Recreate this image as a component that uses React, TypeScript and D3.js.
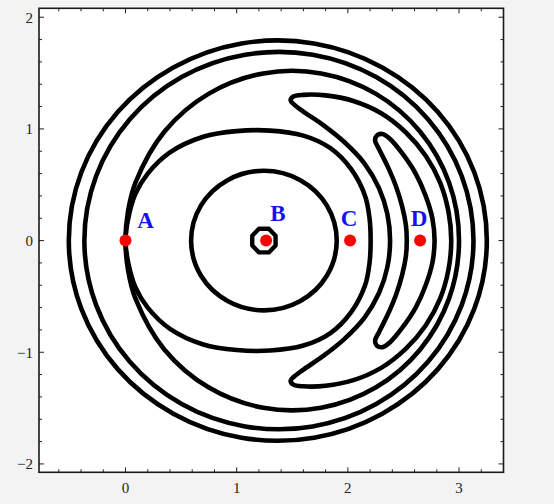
import React, { useEffect, useRef } from 'react';
import * as d3 from 'd3';

type Pt = [number, number];

// contour loops (data units)
const ring1: Pt[] = [
  [3.25, 0], [3.137, 0.612], [2.81, 1.151], [2.31, 1.55], [1.696, 1.765], [1.044, 1.765],
  [0.43, 1.55], [-0.07, 1.151], [-0.397, 0.612], [-0.51, 0], [-0.397, -0.612], [-0.07, -1.151],
  [0.43, -1.55], [1.044, -1.765], [1.696, -1.765], [2.31, -1.55], [2.81, -1.151], [3.137, -0.612],
];

const ring2: Pt[] = [
  [3.13, 0], [3.024, 0.578], [2.721, 1.086], [2.255, 1.464], [1.684, 1.664], [1.076, 1.664],
  [0.505, 1.464], [0.039, 1.086], [-0.264, 0.578], [-0.37, 0], [-0.264, -0.578], [0.039, -1.086],
  [0.505, -1.464], [1.076, -1.664], [1.684, -1.664], [2.255, -1.464], [2.721, -1.086], [3.024, -0.578],
];

const ring3: Pt[] = [
  [3.0, 0], [2.91, 0.52], [2.649, 0.977], [2.25, 1.316], [1.76, 1.497], [1.24, 1.497],
  [0.75, 1.316], [0.351, 0.977], [0.09, 0.52], [0.023, 0.264], [0, 0], [0.023, -0.264],
  [0.09, -0.52], [0.351, -0.977], [0.75, -1.316], [1.24, -1.497], [1.76, -1.497], [2.25, -1.316],
  [2.649, -0.977], [2.91, -0.52],
];

const ring4: Pt[] = [
  [0, 0], [0.025, 0.2], [0.09, 0.42], [0.2, 0.6], [0.4, 0.79], [0.7, 0.93], [1.0, 0.98],
  [1.3, 0.985], [1.6, 0.94], [1.84, 0.83], [2.03, 0.64], [2.155, 0.4], [2.195, 0.2], [2.205, 0],
  [2.195, -0.2], [2.155, -0.4], [2.03, -0.64], [1.84, -0.83], [1.6, -0.94], [1.3, -0.985],
  [1.0, -0.98], [0.7, -0.93], [0.4, -0.79], [0.2, -0.6], [0.09, -0.42], [0.025, -0.2],
];

const ring5: Pt[] = [
  [1.9, 0], [1.812, 0.313], [1.573, 0.541], [1.245, 0.625], [0.918, 0.541], [0.678, 0.313],
  [0.59, 0], [0.678, -0.313], [0.918, -0.541], [1.245, -0.625], [1.573, -0.541], [1.812, -0.313],
];

const ringB: Pt[] = [
  [1.35, 0.044], [1.289, 0.106], [1.201, 0.106], [1.14, 0.044], [1.14, -0.044],
  [1.201, -0.106], [1.289, -0.106], [1.35, -0.044],
];

const crescentOuter: Pt[] = [
  [2.93, 0], [2.905, 0.26], [2.83, 0.52], [2.7, 0.76], [2.52, 0.97], [2.3, 1.14], [2.05, 1.25],
  [1.8, 1.3], [1.6, 1.305], [1.51, 1.29], [1.485, 1.255], [1.52, 1.215], [1.6, 1.155], [1.77, 1.04],
  [1.97, 0.88], [2.15, 0.69], [2.28, 0.47], [2.355, 0.24], [2.38, 0], [2.355, -0.24], [2.28, -0.47],
  [2.15, -0.69], [1.97, -0.88], [1.77, -1.04], [1.6, -1.155], [1.52, -1.215], [1.485, -1.255],
  [1.51, -1.29], [1.6, -1.305], [1.8, -1.3], [2.05, -1.25], [2.3, -1.14], [2.52, -0.97],
  [2.7, -0.76], [2.83, -0.52], [2.905, -0.26],
];

const crescentInner: Pt[] = [
  [2.78, 0], [2.76, 0.2], [2.7, 0.4], [2.61, 0.6], [2.49, 0.78], [2.38, 0.91], [2.31, 0.955],
  [2.26, 0.94], [2.245, 0.895], [2.28, 0.82], [2.36, 0.66], [2.435, 0.48], [2.49, 0.3], [2.522, 0.14],
  [2.53, 0], [2.522, -0.14], [2.49, -0.3], [2.435, -0.48], [2.36, -0.66], [2.28, -0.82], [2.245, -0.895],
  [2.26, -0.94], [2.31, -0.955], [2.38, -0.91], [2.49, -0.78], [2.61, -0.6], [2.7, -0.4], [2.76, -0.2],
];

const smoothLoops = [ring1, ring2, ring3, ring4, ring5, crescentOuter, crescentInner];

// marked points
const pointNames = ['A', 'B', 'C', 'D'];
const pointX = [0, 1.265, 2.02, 2.65];
const pointY = [0, 0, 0, 0];
const labelX = [0.18, 1.37, 2.01, 2.64];
const labelY = [0.11, 0.175, 0.13, 0.13];

const xTicks = [0, 1, 2, 3];
const yTicks = [-2, -1, 0, 1, 2];
const xTickLabels = ['0', '1', '2', '3'];
const yTickLabels = ['\u22122', '\u22121', '0', '1', '2'];

const W = 554;
const H = 504;

export default function App() {
  const svgRef = useRef<SVGSVGElement>(null);

  useEffect(() => {
    if (!svgRef.current) return;
    document.body.style.margin = '0';
    document.body.style.background = '#f3f3f3';

    const svg = d3.select(svgRef.current);
    svg.selectAll('*').remove();

    const x = d3.scaleLinear().domain([-0.778, 3.4]).range([39, 503.5]);
    const y = d3.scaleLinear().domain([-2.075, 2.08]).range([472.3, 8.3]);

    const [x0, x1] = x.range();
    const [y0, y1] = y.range();

    svg.append('rect')
      .attr('width', W).attr('height', H)
      .attr('fill', '#f3f3f3');

    svg.append('rect')
      .attr('x', x0).attr('y', y1)
      .attr('width', x1 - x0).attr('height', y0 - y1)
      .attr('fill', '#ffffff');

    const clip = svg.append('defs').append('clipPath').attr('id', 'plot-clip');
    clip.append('rect')
      .attr('x', x0).attr('y', y1)
      .attr('width', x1 - x0).attr('height', y0 - y1);

    const plot = svg.append('g').attr('clip-path', 'url(#plot-clip)');

    const smooth = d3.line<Pt>()
      .x(d => x(d[0]))
      .y(d => y(d[1]))
      .curve(d3.curveCatmullRomClosed.alpha(0.5));

    const poly = d3.line<Pt>()
      .x(d => x(d[0]))
      .y(d => y(d[1]))
      .curve(d3.curveLinearClosed);

    plot.selectAll('path.loop')
      .data(smoothLoops)
      .join('path')
      .attr('class', 'loop')
      .attr('d', d => smooth(d))
      .attr('fill', 'none')
      .attr('stroke', '#000')
      .attr('stroke-width', 4.6)
      .attr('stroke-linejoin', 'round');

    plot.append('path')
      .attr('d', poly(ringB))
      .attr('fill', 'none')
      .attr('stroke', '#000')
      .attr('stroke-width', 4.4)
      .attr('stroke-linejoin', 'round');

    // red points
    plot.selectAll('circle.pt')
      .data(pointX)
      .join('circle')
      .attr('class', 'pt')
      .attr('cx', d => x(d))
      .attr('cy', (_, i) => y(pointY[i]))
      .attr('r', 6)
      .attr('fill', '#ff0000');

    plot.selectAll('text.lbl')
      .data(pointNames)
      .join('text')
      .attr('class', 'lbl')
      .attr('x', (_, i) => x(labelX[i]))
      .attr('y', (_, i) => y(labelY[i]))
      .attr('text-anchor', 'middle')
      .attr('fill', '#1212f5')
      .style('font-family', '"Liberation Serif", "DejaVu Serif", serif')
      .style('font-size', '23px')
      .style('font-weight', 'bold')
      .text(d => d);

    // frame ticks, pointing inward on all four sides
    const minorX = d3.range(-0.6, 3.3, 0.2).filter(v => Math.abs(v - Math.round(v)) > 0.01);
    const minorY = d3.range(-2, 2.01, 0.2).filter(v => Math.abs(v - Math.round(v)) > 0.01);
    const ticks = svg.append('g').attr('stroke', '#222').attr('stroke-width', 1);

    const addX = (vals: number[], len: number) => {
      vals.forEach(v => {
        ticks.append('line').attr('x1', x(v)).attr('x2', x(v)).attr('y1', y0).attr('y2', y0 - len);
        ticks.append('line').attr('x1', x(v)).attr('x2', x(v)).attr('y1', y1).attr('y2', y1 + len);
      });
    };
    const addY = (vals: number[], len: number) => {
      vals.forEach(v => {
        ticks.append('line').attr('y1', y(v)).attr('y2', y(v)).attr('x1', x0).attr('x2', x0 + len);
        ticks.append('line').attr('y1', y(v)).attr('y2', y(v)).attr('x1', x1).attr('x2', x1 - len);
      });
    };
    addX(xTicks, 5);
    addX(minorX, 3);
    addY(yTicks, 5);
    addY(minorY, 3);

    svg.append('rect')
      .attr('x', x0).attr('y', y1)
      .attr('width', x1 - x0).attr('height', y0 - y1)
      .attr('fill', 'none')
      .attr('stroke', '#1a1a1a')
      .attr('stroke-width', 1.6);

    const font = '"Liberation Serif", "DejaVu Serif", serif';

    svg.append('g')
      .selectAll('text')
      .data(xTicks)
      .join('text')
      .attr('x', d => x(d))
      .attr('y', 493)
      .attr('text-anchor', 'middle')
      .attr('fill', '#222')
      .style('font-family', font)
      .style('font-size', '15px')
      .text((_, i) => xTickLabels[i]);

    svg.append('g')
      .selectAll('text')
      .data(yTicks)
      .join('text')
      .attr('x', 33)
      .attr('y', d => y(d) + 5.5)
      .attr('text-anchor', 'end')
      .attr('fill', '#222')
      .style('font-family', font)
      .style('font-size', '15px')
      .text((_, i) => yTickLabels[i]);
  }, []);

  return (
    <svg
      ref={svgRef}
      width={W}
      height={H}
      style={{ position: 'absolute', left: 0, top: 0, display: 'block' }}
    />
  );
}
